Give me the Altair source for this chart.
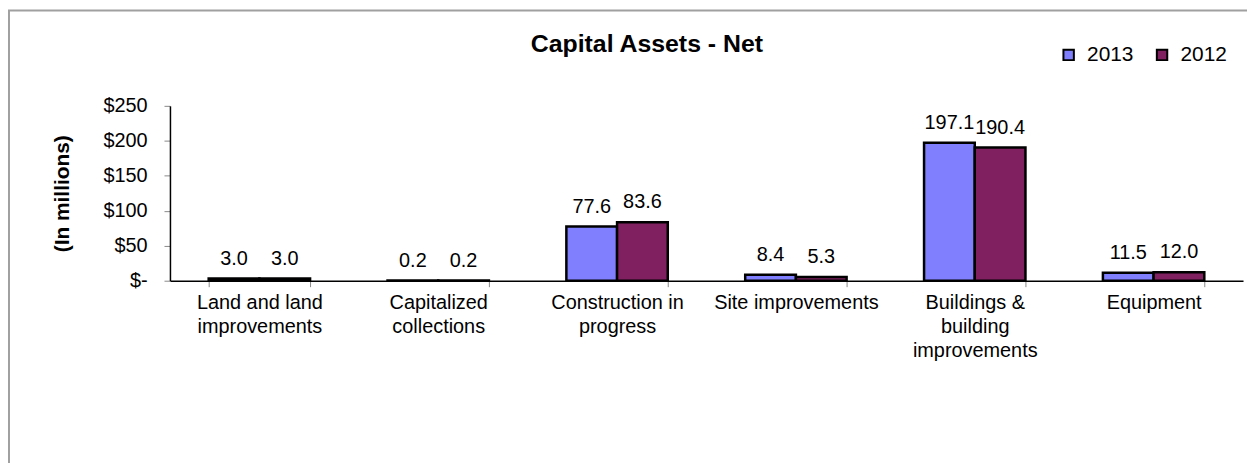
import altair as alt
import pandas as pd

categories = [
    "Land and land\nimprovements",
    "Capitalized\ncollections",
    "Construction in\nprogress",
    "Site improvements",
    "Buildings &\nbuilding\nimprovements",
    "Equipment",
]
years = ["2013", "2012"]
values_2013 = [3.0, 0.2, 77.6, 8.4, 197.1, 11.5]
values_2012 = [3.0, 0.2, 83.6, 5.3, 190.4, 12.0]
colors = ["#8080FF", "#802060"]
y_ticks = [0, 50, 100, 150, 200, 250]

rows = []
for c, v13, v12 in zip(categories, values_2013, values_2012):
    rows.append({"category": c, "year": "2013", "value": v13})
    rows.append({"category": c, "year": "2012", "value": v12})
df = pd.DataFrame(rows)

FONT = "Liberation Sans"

x_axis = alt.Axis(
    title=None,
    labelExpr="split(datum.label, '\\n')",
    labelFontSize=20,
    labelFont=FONT,
    labelColor="black",
    labelLineHeight=24,
    labelPadding=6,
    labelAngle=0,
    labelBaseline="top",
    labelOverlap=False,
    tickBand="extent",
    tickSize=6,
    tickColor="#888888",
    domainColor="black",
    domainWidth=1.5,
    labelLimit=300,
)
y_axis = alt.Axis(
    values=y_ticks,
    labelExpr="datum.value == 0 ? '$-' : '$' + datum.value",
    labelFontSize=20,
    labelFont=FONT,
    labelColor="black",
    labelPadding=17,
    labelOverlap=False,
    labelBound=False,
    labelFlush=False,
    tickSize=6,
    tickColor="#888888",
    domainColor="black",
    domainWidth=1.5,
    grid=False,
    title="(In millions)",
    titleFont=FONT,
    titleFontSize=21,
    titleFontWeight="bold",
    titleColor="black",
    titlePadding=31,
)
x_scale = alt.Scale(paddingInner=0.433, paddingOuter=0.2165)
y_scale = alt.Scale(domain=[0, 250], nice=False)

x_enc = alt.X("category:N", sort=categories, scale=x_scale, axis=x_axis)
xoff = alt.XOffset("year:N", sort=years, scale=alt.Scale(paddingInner=0, paddingOuter=0))
y_enc = alt.Y("value:Q", scale=y_scale, axis=y_axis)

bars = alt.Chart(df).mark_bar(stroke="black", strokeWidth=2.5).encode(
    x=x_enc,
    xOffset=xoff,
    y=y_enc,
    color=alt.Color(
        "year:N",
        sort=years,
        scale=alt.Scale(domain=years, range=colors),
        legend=alt.Legend(
            title=None,
            orient="none",
            direction="horizontal",
            legendX=894,
            legendY=-62,
            symbolType="square",
            symbolSize=110,
            symbolStrokeColor="black",
            symbolStrokeWidth=2,
            labelFontSize=21,
            labelFont=FONT,
            labelColor="black",
            labelOffset=8,
            columnPadding=18,
        ),
    ),
)

labels = alt.Chart(df).mark_text(
    fontSize=20, font=FONT, color="black", baseline="alphabetic", dy=-14
).encode(
    x=x_enc,
    xOffset=xoff,
    y=y_enc,
    text=alt.Text("value:Q", format=".1f"),
)

frame = alt.Chart(alt.Data(values=[{}])).mark_rect(
    filled=False, stroke="#a0a0a0", strokeWidth=2
).encode(
    x=alt.value(-162), x2=alt.value(1300), y=alt.value(-96), y2=alt.value(500)
)

chart = (
    alt.layer(bars, labels, frame)
    .properties(
        width=1080,
        height=176,
        padding={"left": 163, "top": 97, "right": 4, "bottom": 182},
        autosize=alt.AutoSizeParams(type="none"),
        title=alt.Title(
            "Capital Assets - Net",
            font=FONT,
            fontSize=25,
            fontWeight="bold",
            color="black",
            anchor="middle",
            frame="group",
            baseline="alphabetic",
            dx=-60,
            dy=68,
            offset=0,
        ),
    )
    .configure_view(stroke=None)
)

chart.save("out.html", embed_options={"renderer": "svg", "actions": False})
